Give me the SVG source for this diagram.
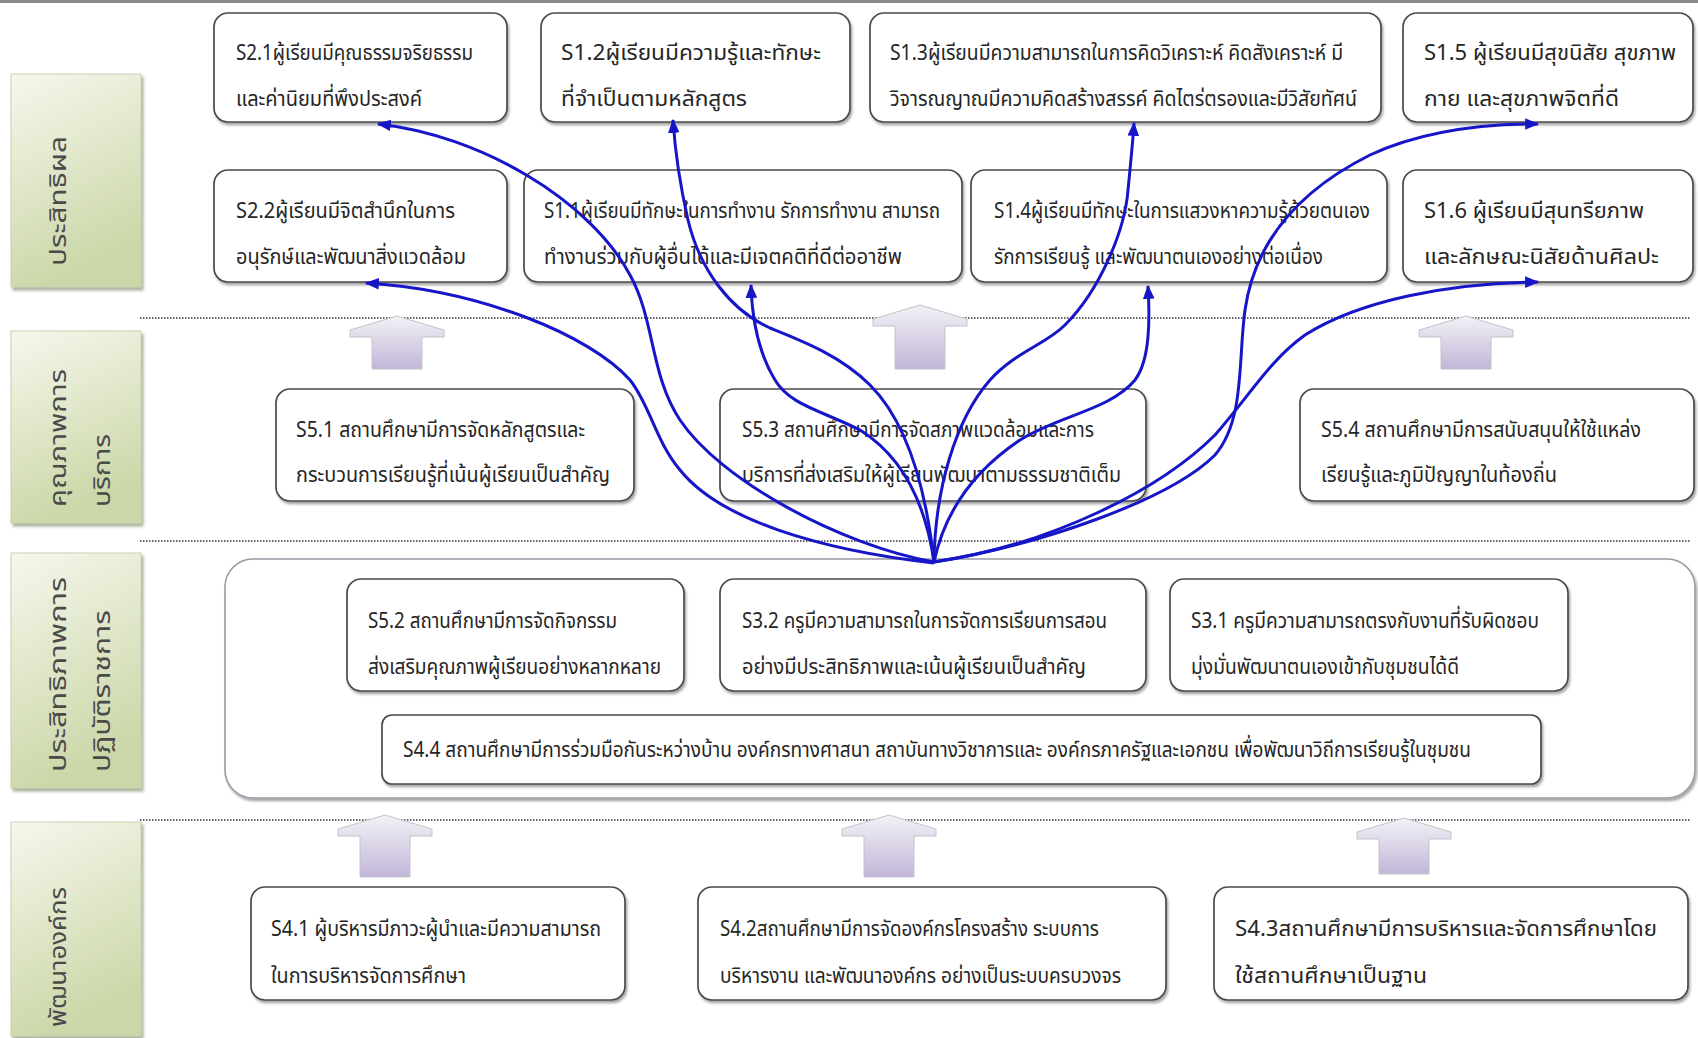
<svg xmlns="http://www.w3.org/2000/svg" width="1698" height="1038" viewBox="0 0 1698 1038">
<style>
.box{fill:#fff;stroke:#4a4a4a;stroke-width:1.7;filter:url(#sh)}
.cont{fill:#fff;stroke:#9a9aa6;stroke-width:1.6;filter:url(#sh)}
.lab{fill:url(#lg);stroke:#c9d2b0;stroke-width:1;filter:url(#sh2)}
.t{font-family:'Noto Sans Thai','Tahoma','Noto Sans','DejaVu Sans',sans-serif;font-size:22px;fill:#262626}
.lt{font-family:'Noto Sans Thai','Tahoma','Noto Sans','DejaVu Sans',sans-serif;font-size:23px;fill:#4a4a4a}
.dot{stroke:#333;stroke-width:1.6;stroke-dasharray:1.5 1.5}
.blk{fill:url(#ag);stroke:#c4c2cc;stroke-width:1}
.cn{fill:none;stroke:#1616c8;stroke-width:3;marker-end:url(#ah)}
</style>
<defs>
<linearGradient id="lg" x1="0" y1="0" x2="0.3" y2="1">
<stop offset="0" stop-color="#f6f7ec"/>
<stop offset="1" stop-color="#cbd7a8"/>
</linearGradient>
<linearGradient id="ag" x1="0" y1="0" x2="0" y2="1">
<stop offset="0" stop-color="#f3f2f6"/>
<stop offset="1" stop-color="#c2b6d8"/>
</linearGradient>
<filter id="sh" x="-5%" y="-5%" width="112%" height="125%">
<feDropShadow dx="1.5" dy="2.5" stdDeviation="1.2" flood-color="#000" flood-opacity="0.35"/>
</filter>
<filter id="sh2" x="-5%" y="-5%" width="115%" height="115%">
<feDropShadow dx="2" dy="3" stdDeviation="1.5" flood-color="#6d7a55" flood-opacity="0.6"/>
</filter>
<marker id="ah" viewBox="0 0 12 10" markerUnits="userSpaceOnUse" markerWidth="14" markerHeight="12" refX="11" refY="5" orient="auto">
<path d="M0,0 L12,5 L0,10 z" fill="#1616c8"/>
</marker>
</defs>
<rect x="0" y="0" width="1698" height="1038" fill="#fff"/>
<line x1="0" y1="1.5" x2="1698" y2="1.5" stroke="#8a8a8a" stroke-width="3"/>

<g id="lanes">
<g id="lane1"><rect class="lab" x="11" y="74" width="130" height="213"/>
<text class="lt" transform="translate(66,266) rotate(-90)" textLength="130" lengthAdjust="spacingAndGlyphs">ประสิทธิผล</text></g>
<g id="lane2"><rect class="lab" x="11" y="331" width="130" height="192"/>
<text class="lt" transform="translate(66,507) rotate(-90)" textLength="138" lengthAdjust="spacingAndGlyphs">คุณภาพการ</text>
<text class="lt" transform="translate(110,507) rotate(-90)" textLength="73" lengthAdjust="spacingAndGlyphs">บริการ</text></g>
<g id="lane3"><rect class="lab" x="11" y="553" width="130" height="235"/>
<text class="lt" transform="translate(66,772) rotate(-90)" textLength="195" lengthAdjust="spacingAndGlyphs">ประสิทธิภาพการ</text>
<text class="lt" transform="translate(110,772) rotate(-90)" textLength="162" lengthAdjust="spacingAndGlyphs">ปฏิบัติราชการ</text></g>
<g id="lane4"><rect class="lab" x="11" y="822" width="130" height="214"/>
<text class="lt" transform="translate(66,1027) rotate(-90)" textLength="140" lengthAdjust="spacingAndGlyphs">พัฒนาองค์กร</text></g>
</g>

<g id="separators">
<line class="dot" x1="140" y1="318" x2="1690" y2="318"/>
<line class="dot" x1="140" y1="541" x2="1690" y2="541"/>
<line class="dot" x1="140" y1="820" x2="1690" y2="820"/>
</g>

<g id="process-container"><rect class="cont" x="225" y="559" width="1470" height="239" rx="28"/></g>

<g id="block-arrows">
<polygon class="blk" points="397,316 444,330 444,337 422,337 422,369 372,369 372,337 350,337 350,330"/>
<polygon class="blk" points="920,305 967,319 967,326 945,326 945,369 895,369 895,326 873,326 873,319"/>
<polygon class="blk" points="1466,316 1513,330 1513,337 1491,337 1491,369 1441,369 1441,337 1419,337 1419,330"/>
<polygon class="blk" points="385,815 432,829 432,836 410,836 410,877 360,877 360,836 338,836 338,829"/>
<polygon class="blk" points="889,815 936,829 936,836 914,836 914,877 864,877 864,836 842,836 842,829"/>
<polygon class="blk" points="1404,818 1451,832 1451,839 1429,839 1429,874 1379,874 1379,839 1357,839 1357,832"/>
</g>

<g id="S2.1"><rect class="box" x="214" y="13" width="293" height="109" rx="14"/>
<text class="t" x="236" y="60" textLength="237" lengthAdjust="spacingAndGlyphs">S2.1ผู้เรียนมีคุณธรรมจริยธรรม</text>
<text class="t" x="236" y="106" textLength="186" lengthAdjust="spacingAndGlyphs">และค่านิยมที่พึงประสงค์</text></g>
<g id="S1.2"><rect class="box" x="541" y="13" width="309" height="109" rx="14"/>
<text class="t" x="561" y="60" textLength="260" lengthAdjust="spacingAndGlyphs">S1.2ผู้เรียนมีความรู้และทักษะ</text>
<text class="t" x="561" y="106" textLength="186" lengthAdjust="spacingAndGlyphs">ที่จำเป็นตามหลักสูตร</text></g>
<g id="S1.3"><rect class="box" x="870" y="13" width="511" height="109" rx="14"/>
<text class="t" x="890" y="60" textLength="453" lengthAdjust="spacingAndGlyphs">S1.3ผู้เรียนมีความสามารถในการคิดวิเคราะห์ คิดสังเคราะห์ มี</text>
<text class="t" x="890" y="106" textLength="467" lengthAdjust="spacingAndGlyphs">วิจารณญาณมีความคิดสร้างสรรค์ คิดไตร่ตรองและมีวิสัยทัศน์</text></g>
<g id="S1.5"><rect class="box" x="1403" y="13" width="290" height="109" rx="14"/>
<text class="t" x="1424" y="60" textLength="252" lengthAdjust="spacingAndGlyphs">S1.5 ผู้เรียนมีสุขนิสัย สุขภาพ</text>
<text class="t" x="1424" y="106" textLength="195" lengthAdjust="spacingAndGlyphs">กาย และสุขภาพจิตที่ดี</text></g>

<g id="S2.2"><rect class="box" x="214" y="170" width="293" height="112" rx="14"/>
<text class="t" x="236" y="218" textLength="219" lengthAdjust="spacingAndGlyphs">S2.2ผู้เรียนมีจิตสำนึกในการ</text>
<text class="t" x="236" y="264" textLength="230" lengthAdjust="spacingAndGlyphs">อนุรักษ์และพัฒนาสิ่งแวดล้อม</text></g>
<g id="S1.1"><rect class="box" x="524" y="170" width="438" height="112" rx="14"/>
<text class="t" x="544" y="218" textLength="396" lengthAdjust="spacingAndGlyphs">S1.1ผู้เรียนมีทักษะในการทำงาน รักการทำงาน สามารถ</text>
<text class="t" x="544" y="264" textLength="358" lengthAdjust="spacingAndGlyphs">ทำงานร่วมกับผู้อื่นได้และมีเจตคติที่ดีต่ออาชีพ</text></g>
<g id="S1.4"><rect class="box" x="971" y="170" width="416" height="112" rx="14"/>
<text class="t" x="994" y="218" textLength="376" lengthAdjust="spacingAndGlyphs">S1.4ผู้เรียนมีทักษะในการแสวงหาความรู้ด้วยตนเอง</text>
<text class="t" x="994" y="264" textLength="329" lengthAdjust="spacingAndGlyphs">รักการเรียนรู้ และพัฒนาตนเองอย่างต่อเนื่อง</text></g>
<g id="S1.6"><rect class="box" x="1403" y="170" width="290" height="112" rx="14"/>
<text class="t" x="1424" y="218" textLength="220" lengthAdjust="spacingAndGlyphs">S1.6 ผู้เรียนมีสุนทรียภาพ</text>
<text class="t" x="1424" y="264" textLength="235" lengthAdjust="spacingAndGlyphs">และลักษณะนิสัยด้านศิลปะ</text></g>

<g id="S5.1"><rect class="box" x="276" y="389" width="358" height="112" rx="14"/>
<text class="t" x="296" y="437" textLength="289" lengthAdjust="spacingAndGlyphs">S5.1 สถานศึกษามีการจัดหลักสูตรและ</text>
<text class="t" x="296" y="482" textLength="314" lengthAdjust="spacingAndGlyphs">กระบวนการเรียนรู้ที่เน้นผู้เรียนเป็นสำคัญ</text></g>
<g id="S5.3"><rect class="box" x="720" y="389" width="426" height="112" rx="14"/>
<text class="t" x="742" y="437" textLength="352" lengthAdjust="spacingAndGlyphs">S5.3 สถานศึกษามีการจัดสภาพแวดล้อมและการ</text>
<text class="t" x="742" y="482" textLength="379" lengthAdjust="spacingAndGlyphs">บริการที่ส่งเสริมให้ผู้เรียนพัฒนาตามธรรมชาติเต็ม</text></g>
<g id="S5.4"><rect class="box" x="1300" y="389" width="394" height="112" rx="14"/>
<text class="t" x="1321" y="437" textLength="320" lengthAdjust="spacingAndGlyphs">S5.4 สถานศึกษามีการสนับสนุนให้ใช้แหล่ง</text>
<text class="t" x="1321" y="482" textLength="236" lengthAdjust="spacingAndGlyphs">เรียนรู้และภูมิปัญญาในท้องถิ่น</text></g>

<g id="S5.2"><rect class="box" x="347" y="579" width="337" height="112" rx="14"/>
<text class="t" x="368" y="628" textLength="249" lengthAdjust="spacingAndGlyphs">S5.2 สถานศึกษามีการจัดกิจกรรม</text>
<text class="t" x="368" y="674" textLength="293" lengthAdjust="spacingAndGlyphs">ส่งเสริมคุณภาพผู้เรียนอย่างหลากหลาย</text></g>
<g id="S3.2"><rect class="box" x="720" y="579" width="426" height="112" rx="14"/>
<text class="t" x="742" y="628" textLength="365" lengthAdjust="spacingAndGlyphs">S3.2 ครูมีความสามารถในการจัดการเรียนการสอน</text>
<text class="t" x="742" y="674" textLength="344" lengthAdjust="spacingAndGlyphs">อย่างมีประสิทธิภาพและเน้นผู้เรียนเป็นสำคัญ</text></g>
<g id="S3.1"><rect class="box" x="1170" y="579" width="398" height="112" rx="14"/>
<text class="t" x="1191" y="628" textLength="348" lengthAdjust="spacingAndGlyphs">S3.1 ครูมีความสามารถตรงกับงานที่รับผิดชอบ</text>
<text class="t" x="1191" y="674" textLength="268" lengthAdjust="spacingAndGlyphs">มุ่งมั่นพัฒนาตนเองเข้ากับชุมชนได้ดี</text></g>
<g id="S4.4"><rect class="box" x="382" y="715" width="1159" height="69" rx="10"/>
<text class="t" x="403" y="757" textLength="1068" lengthAdjust="spacingAndGlyphs">S4.4 สถานศึกษามีการร่วมมือกันระหว่างบ้าน องค์กรทางศาสนา สถาบันทางวิชาการและ องค์กรภาครัฐและเอกชน เพื่อพัฒนาวิถีการเรียนรู้ในชุมชน</text></g>

<g id="S4.1"><rect class="box" x="251" y="887" width="374" height="113" rx="14"/>
<text class="t" x="271" y="936" textLength="330" lengthAdjust="spacingAndGlyphs">S4.1 ผู้บริหารมีภาวะผู้นำและมีความสามารถ</text>
<text class="t" x="271" y="983" textLength="195" lengthAdjust="spacingAndGlyphs">ในการบริหารจัดการศึกษา</text></g>
<g id="S4.2"><rect class="box" x="698" y="887" width="468" height="113" rx="14"/>
<text class="t" x="720" y="936" textLength="379" lengthAdjust="spacingAndGlyphs">S4.2สถานศึกษามีการจัดองค์กรโครงสร้าง ระบบการ</text>
<text class="t" x="720" y="983" textLength="401" lengthAdjust="spacingAndGlyphs">บริหารงาน และพัฒนาองค์กร อย่างเป็นระบบครบวงจร</text></g>
<g id="S4.3"><rect class="box" x="1214" y="887" width="474" height="113" rx="14"/>
<text class="t" x="1235" y="936" textLength="422" lengthAdjust="spacingAndGlyphs">S4.3สถานศึกษามีการบริหารและจัดการศึกษาโดย</text>
<text class="t" x="1235" y="983" textLength="192" lengthAdjust="spacingAndGlyphs">ใช้สถานศึกษาเป็นฐาน</text></g>

<g id="connectors">
<path class="cn" d="M934,562 C840,545 720,480 680,420 C650,375 655,320 630,275 C590,200 480,135 378,124"/>
<path class="cn" d="M934,563 C820,550 720,520 680,470 C655,440 650,405 630,380 C590,335 480,290 366,283"/>
<path class="cn" d="M934,562 C925,480 905,420 870,385 C840,355 800,340 770,328 C730,310 700,270 688,220 C680,185 675,150 673,120"/>
<path class="cn" d="M934,562 C925,500 900,455 860,430 C820,410 790,405 775,380 C758,352 752,320 751,285"/>
<path class="cn" d="M934,562 C935,490 955,420 990,380 C1015,352 1045,345 1065,325 C1100,290 1125,230 1128,190 C1131,160 1133,140 1134,123"/>
<path class="cn" d="M934,562 C945,510 975,470 1020,440 C1060,415 1110,410 1135,380 C1150,360 1150,320 1148,286"/>
<path class="cn" d="M934,562 C1040,545 1170,500 1215,455 C1245,420 1238,360 1245,310 C1255,240 1300,190 1370,155 C1420,132 1480,124 1538,124"/>
<path class="cn" d="M934,562 C1050,545 1160,490 1215,435 C1250,395 1270,360 1305,335 C1360,300 1450,283 1538,282"/>
</g>
</svg>
